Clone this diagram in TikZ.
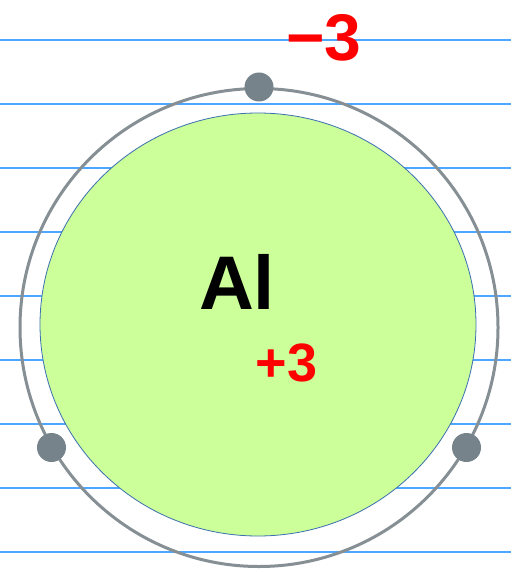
\documentclass[tikz,border=0pt]{standalone}
\usepackage{fontspec}
\setmainfont{Liberation Sans}
\definecolor{ruleblue}{HTML}{4DA6FF}
\definecolor{ringgray}{HTML}{858F94}
\definecolor{dotgray}{HTML}{76838A}
\definecolor{nucgreen}{HTML}{CCFF99}
\definecolor{nucedge}{HTML}{3A6FB0}
\definecolor{inkred}{HTML}{FF0000}
\tikzset{
  ruleline/.style={draw=ruleblue, line width=1.1pt},
  electron/.style={circle, fill=dotgray, minimum size=29pt, inner sep=0pt},
  redtext/.style={text=inkred, font=\bfseries\fontsize{54}{58}\selectfont, inner sep=0pt}
}
\begin{document}
\begin{tikzpicture}[x=1pt,y=-1pt]
\useasboundingbox (0,0) rectangle (511,572);
\fill[white] (0,0) rectangle (511,572);
% ruled lines
\foreach \yy in {40,104,168,232,296,360,424,488,552}
  \draw[ruleline] (0,\yy) -- (511,\yy);
% shell
\draw[ringgray, line width=3pt] (259,327.5) circle[radius=239];
% nucleus
\draw[nucedge, fill=nucgreen, line width=0.8pt] (258,324.5) ellipse[x radius=218, y radius=211.5];
% electrons
\node[electron] (e1) at (259,87) {};
\node[electron] (e2) at (51.5,447.5) {};
\node[electron] (e3) at (466.5,447.5) {};
% labels
\node[anchor=base, inner sep=0pt, font=\bfseries\fontsize{76}{80}\selectfont] (sym) at (237,309) {Al};
\node[redtext, anchor=base] (nuccharge) at (286.5,381) {+3};
\node[redtext, anchor=base, font=\bfseries\fontsize{66}{70}\selectfont] (shellcharge) at (324,61) {−3};
\end{tikzpicture}
\end{document}
